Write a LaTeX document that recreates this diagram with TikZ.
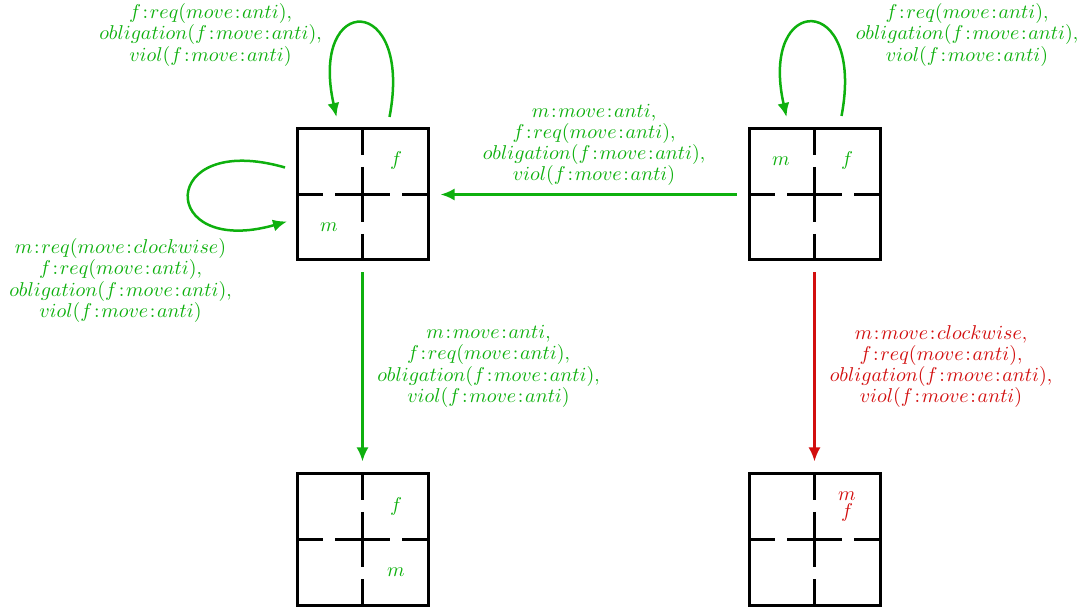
\documentclass[tikz,border=0pt]{standalone}
\usetikzlibrary{arrows.meta}
\definecolor{grn}{RGB}{14,176,14}
\definecolor{rd}{RGB}{210,14,14}
\newcommand\cl{\mkern1.5mu{:}\mkern1.5mu}
\newcommand\boxcross[1]{%
  \foreach \a/\b in {-65.5/-39.5,-27.5/27.5,39.5/65.5}{%
    \draw[line width=1.5pt] ([shift={(\a,0)}]#1.center) -- ([shift={(\b,0)}]#1.center);
    \draw[line width=1.5pt] ([shift={(0,\a)}]#1.center) -- ([shift={(0,\b)}]#1.center);
  }}
\begin{document}
\begin{tikzpicture}[x=0.5pt,y=-0.5pt,
  box/.style={draw,line width=1.5pt,minimum size=65.5pt,inner sep=0pt,outer sep=0pt},
  lab/.style={align=center,inner sep=0pt,font=\fontsize{9.6}{10.6}\selectfont},
  agent/.style={inner sep=0pt,align=center,font=\fontsize{10}{10.5}\selectfont},
  arr/.style={line width=1.25pt,-{Latex[length=7pt,width=6pt]}},
  gap/.style={shorten <=6.25pt,shorten >=6.25pt}]
\useasboundingbox (0,0) rectangle (1086,608);
% boxes
\node[box] (b1) at (362.5,194.5) {};
\node[box] (b2) at (814.5,194.5) {};
\node[box] (b3) at (362.5,539.5) {};
\node[box] (b4) at (814.5,539.5) {};
\boxcross{b1}\boxcross{b2}\boxcross{b3}\boxcross{b4}
% agents
\node[agent,grn] (b1f) at (396,161) {$f$};
\node[agent,grn] (b1m) at (329,227) {$m$};
\node[agent,grn] (b2m) at (781,161) {$m$};
\node[agent,grn] (b2f) at (847,161) {$f$};
\node[agent,grn] (b3f) at (396,506) {$f$};
\node[agent,grn] (b3m) at (396,572) {$m$};
\node[agent,rd] (b4mf) at (847,506.5) {$m$\\[-2pt]$f$};
% connectors
\draw[arr,grn,gap] (b2.west) -- (b1.east);
\draw[arr,grn,gap] (b1.south) -- (b3.north);
\draw[arr,rd,gap] (b2.south) -- (b4.north);
\draw[arr,grn] ([shift={(27,-12)}]b1.north) .. controls +(24,-125) and +(-28,-125) .. ([shift={(-26,-12)}]b1.north);
\draw[arr,grn] ([shift={(27,-13)}]b2.north) .. controls +(24,-125) and +(-28,-125) .. ([shift={(-28,-12)}]b2.north);
\draw[arr,grn] ([shift={(-12,-27)}]b1.west) .. controls +(-128,-37) and +(-130,37) .. ([shift={(-10,27)}]b1.west);
% labels
\node[lab,grn] (l1) at (210.5,35) {$f\cl req(move\cl anti)$,\\$obligation(f\cl move\cl anti)$,\\$viol(f\cl move\cl anti)$};
\node[lab,grn] (l2) at (967,35) {$f\cl req(move\cl anti)$,\\$obligation(f\cl move\cl anti)$,\\$viol(f\cl move\cl anti)$};
\node[lab,grn] (l3) at (594,145) {$m\cl move\cl anti$,\\$f\cl req(move\cl anti)$,\\$obligation(f\cl move\cl anti)$,\\$viol(f\cl move\cl anti)$};
\node[lab,grn] (l4) at (120.5,280.5) {$m\cl req(move\cl clockwise)$\\$f\cl req(move\cl anti)$,\\$obligation(f\cl move\cl anti)$,\\$viol(f\cl move\cl anti)$};
\node[lab,grn] (l5) at (488.5,366.5) {$m\cl move\cl anti$,\\$f\cl req(move\cl anti)$,\\$obligation(f\cl move\cl anti)$,\\$viol(f\cl move\cl anti)$};
\node[lab,rd] (l6) at (941,366.5) {$m\cl move\cl clockwise$,\\$f\cl req(move\cl anti)$,\\$obligation(f\cl move\cl anti)$,\\$viol(f\cl move\cl anti)$};
\end{tikzpicture}
\end{document}
